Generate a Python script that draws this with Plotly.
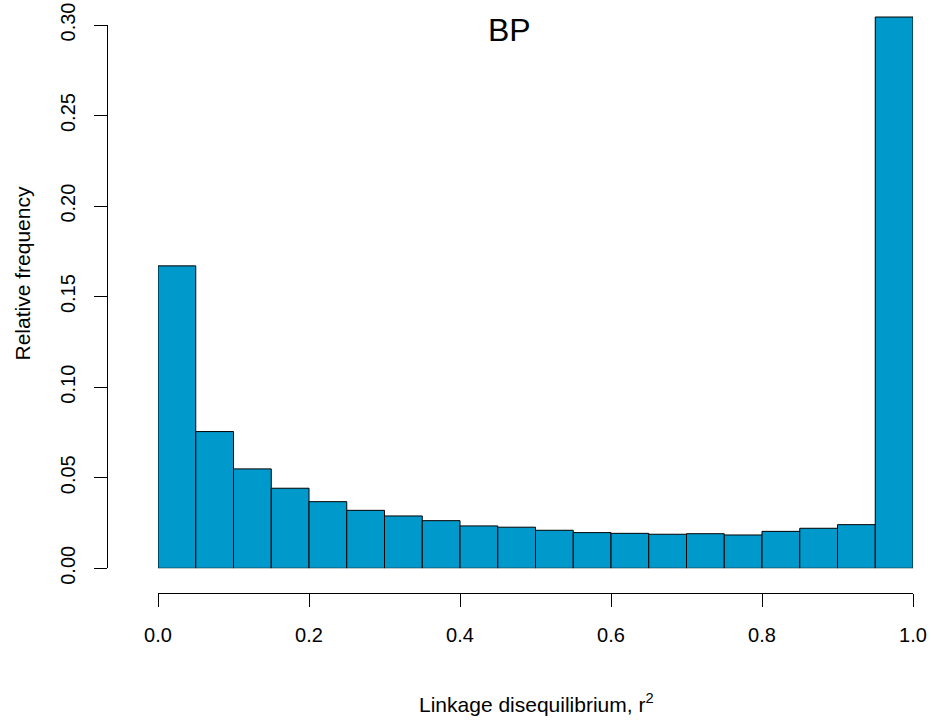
import numpy as np
import plotly.graph_objects as go

# ---- data ----
bin_edges = [round(0.05 * i, 2) for i in range(21)]
rel_freq = [0.1670, 0.0755, 0.0549, 0.0442, 0.0368, 0.0320, 0.0289, 0.0263,
            0.0234, 0.0227, 0.0210, 0.0197, 0.0193, 0.0188, 0.0191, 0.0184,
            0.0204, 0.0221, 0.0241, 0.3044]
x_ticks = [0.0, 0.2, 0.4, 0.6, 0.8, 1.0]
y_ticks = [0.00, 0.05, 0.10, 0.15, 0.20, 0.25, 0.30]
title_text = "BP"
x_title = "Linkage disequilibrium, r<sup>2</sup>"
y_title = "Relative frequency"

W, H = 931, 720
FONT = "Liberation Sans, Arial, sans-serif"

edges = np.array(bin_edges)
centers = (edges[:-1] + edges[1:]) / 2
widths = np.diff(edges)

# pixel layout
px_x0, px_x1 = 158, 913      # data x 0 -> 1
px_y0, px_y30 = 568.3, 25    # data y 0 -> 0.30
scale = (px_y0 - px_y30) / 0.30
y_top_val = 0.31
px_ytop = px_y0 - y_top_val * scale

fig = go.Figure()
fig.add_trace(go.Bar(
    x=centers, y=rel_freq, width=widths,
    marker=dict(color="#0099cc", line=dict(color="black", width=1)),
    xaxis="x", yaxis="y", showlegend=False, hoverinfo="x+y",
))
# dummy trace to create the axis subplot
fig.add_trace(go.Scatter(x=[None], y=[None], xaxis="x2", yaxis="y2",
                         showlegend=False, hoverinfo="skip"))

fig.update_layout(
    width=W, height=H, autosize=False,
    margin=dict(l=0, r=0, t=0, b=0, pad=0, autoexpand=False),
    paper_bgcolor="white", plot_bgcolor="rgba(0,0,0,0)",
    font=dict(family=FONT, size=20, color="black"),
    xaxis=dict(domain=[px_x0 / W, px_x1 / W], range=[0, 1], visible=False,
               fixedrange=True, automargin=False),
    yaxis=dict(domain=[1 - px_y0 / H, 1 - px_ytop / H], range=[0, y_top_val],
               visible=False, fixedrange=True, automargin=False),
    xaxis2=dict(domain=[px_x0 / W, px_x1 / W], range=[0, 1], anchor="free",
                position=1 - 593 / H, showline=True, linecolor="black",
                linewidth=1, ticks="outside", ticklen=13, tickwidth=1,
                tickcolor="black", tickvals=x_ticks, tickformat=".1f",
                showgrid=False, zeroline=False, ticklabelstandoff=11,
                tickfont=dict(size=20), automargin=False),
    yaxis2=dict(domain=[1 - px_y0 / H, 1 - px_y30 / H], range=[0, 0.30],
                anchor="free", position=107 / W, showline=True,
                linecolor="black", linewidth=1, ticks="outside", ticklen=13,
                tickwidth=1, tickcolor="black", tickvals=y_ticks,
                tickformat=".2f", tickangle=-90, showgrid=False,
                zeroline=False, ticklabelstandoff=11, tickfont=dict(size=20),
                automargin=False),
    annotations=[
        dict(text=title_text, x=509 / W, y=1 - 30 / H, xref="paper",
             yref="paper", showarrow=False, xanchor="center",
             yanchor="middle", font=dict(size=32)),
        dict(text=y_title, x=21.5 / W, y=1 - 274 / H, xref="paper",
             yref="paper", showarrow=False, xanchor="center",
             yanchor="middle", textangle=-90, font=dict(size=21)),
        dict(text=x_title, x=536 / W, y=1 - 703 / H, xref="paper",
             yref="paper", showarrow=False, xanchor="center",
             yanchor="middle", font=dict(size=21)),
    ],
)

fig.write_html("out.html")
